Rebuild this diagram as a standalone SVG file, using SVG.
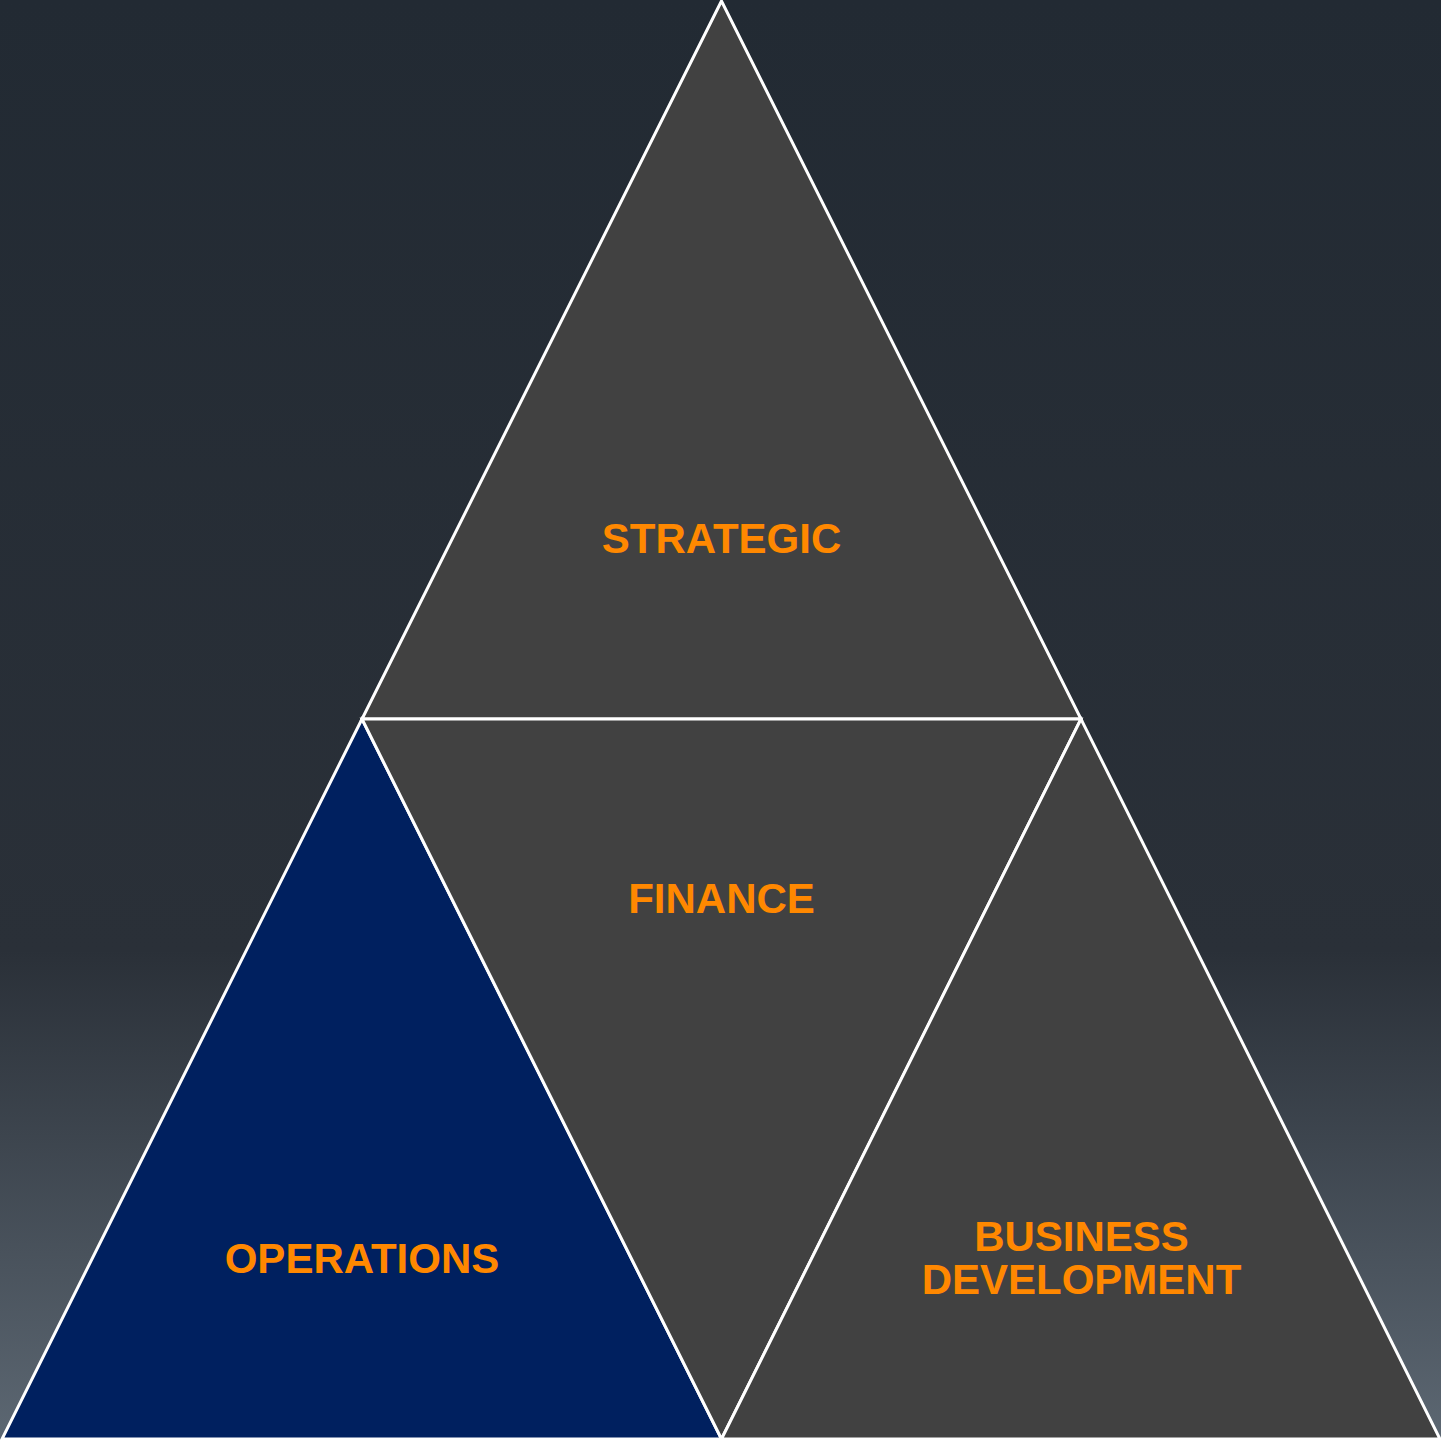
<svg xmlns="http://www.w3.org/2000/svg" width="1441" height="1440" viewBox="0 0 1441 1440">
<defs>
<linearGradient id="bg" x1="0" y1="0" x2="0" y2="1">
<stop offset="0" stop-color="#222a33"/>
<stop offset="0.66" stop-color="#2a3038"/>
<stop offset="1" stop-color="#5c6772"/>
</linearGradient>
<style>
.tri{stroke:#ffffff;stroke-width:3;stroke-linejoin:miter}
.gray{fill:#414141}
.blue{fill:#00205f}
.lbl{font-family:"Liberation Sans",Arial,sans-serif;font-weight:bold;font-size:42px;fill:#ff8800;text-anchor:middle}
</style>
</defs>
<rect x="0" y="0" width="1441" height="1440" fill="url(#bg)"/>
<g id="strategic">
<polygon class="tri gray" points="721.5,1 362,719 1081,719"/>
<text class="lbl" x="721.5" y="553">STRATEGIC</text>
</g>
<g id="operations">
<polygon class="tri blue" points="362,719 2,1439 721.5,1439"/>
<text class="lbl" x="362" y="1273">OPERATIONS</text>
</g>
<g id="finance">
<polygon class="tri gray" points="362,719 1081,719 721.5,1439"/>
<text class="lbl" x="721.5" y="913">FINANCE</text>
</g>
<g id="business">
<polygon class="tri gray" points="1081,719 721.5,1439 1440,1439"/>
<text class="lbl" x="1081.5" y="1251">BUSINESS</text>
<text class="lbl" x="1081.5" y="1294">DEVELOPMENT</text>
</g>
<g id="connectors"></g>
</svg>
